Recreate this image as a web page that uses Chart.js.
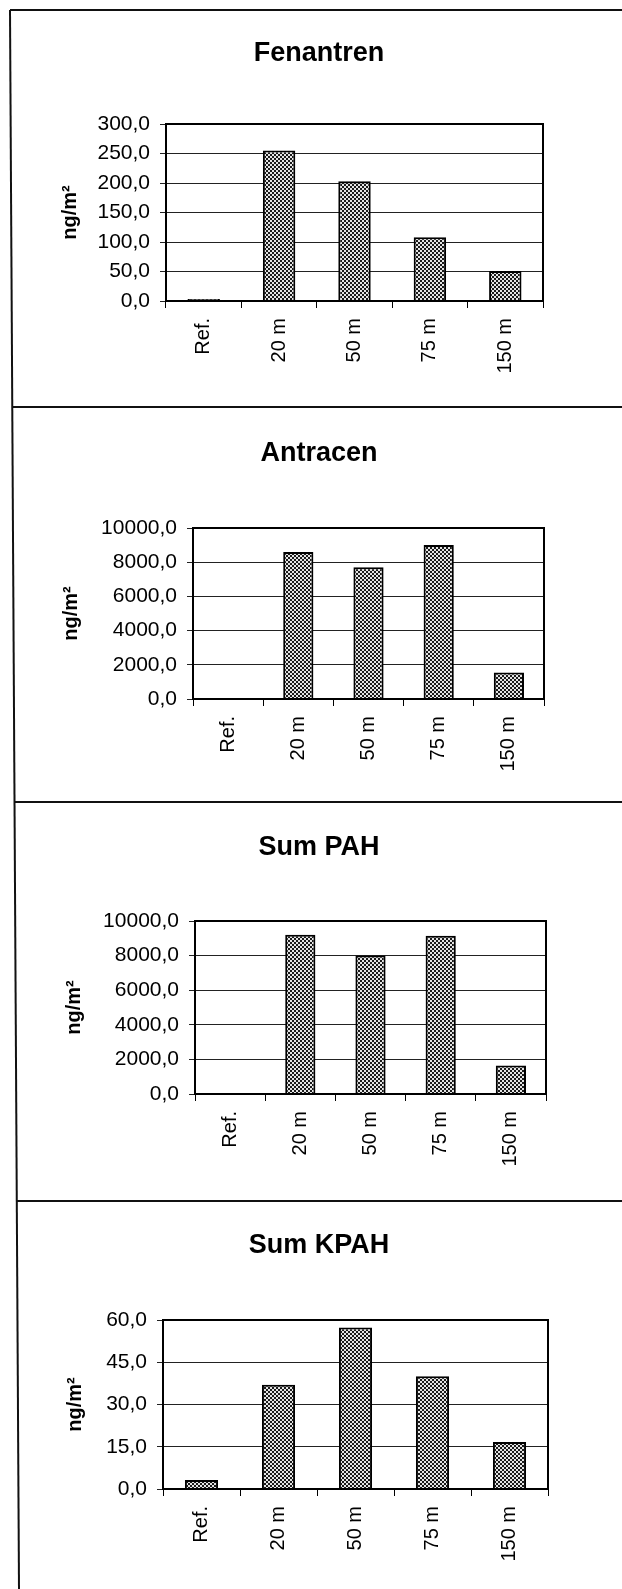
<!DOCTYPE html>
<html>
<head>
<meta charset="utf-8">
<script src="https://cdn.jsdelivr.net/npm/chart.js@4.4.0/dist/chart.umd.min.js"></script>
<style>
  body { margin: 0; background: #fff; }
  #page { position: relative; width: 622px; height: 1589px; overflow: hidden; }
  #page svg { position: absolute; left: 0; top: 0; }
  #page canvas { position: absolute; left: 16px; }
</style>
</head>
<body>
<div id="page">
  <svg width="622" height="1589">
    <g stroke="#111" stroke-width="2">
      <line x1="10" y1="10" x2="622" y2="10"/>
      <line x1="10" y1="10" x2="19" y2="1589"/>
      <line x1="12" y1="407" x2="622" y2="407"/>
      <line x1="14" y1="802" x2="622" y2="802"/>
      <line x1="17" y1="1201" x2="622" y2="1201"/>
    </g>
  </svg>
  <canvas id="myChart1" width="606" height="395" style="top:12px"></canvas>
  <canvas id="myChart2" width="606" height="393" style="top:409px"></canvas>
  <canvas id="myChart3" width="606" height="397" style="top:804px"></canvas>
  <canvas id="myChart4" width="606" height="386" style="top:1203px"></canvas>
</div>
<script>
var categories = ["Ref.", "20 m", "50 m", "75 m", "150 m"];

var fenantren = [3.5, 255, 203, 108, 51];
var antracen = [0, 8600, 7700, 9000, 1550];
var sumPAH = [30, 9200, 8000, 9150, 1650];
var sumKPAH = [3.2, 37, 57.3, 40, 16.7];

var fenantrenTicks = [0, 50, 100, 150, 200, 250, 300];
var antracenTicks = [0, 2000, 4000, 6000, 8000, 10000];
var sumPAHTicks = [0, 2000, 4000, 6000, 8000, 10000];
var sumKPAHTicks = [0, 15, 30, 45, 60];

Chart.defaults.font.family = "'Liberation Sans', Arial, sans-serif";
Chart.defaults.color = "#000";

// black frame round the plot area
var plotFrame = {
    id: "plotFrame",
    afterDatasetsDraw: function (chart) {
        var a = chart.chartArea;
        var ctx = chart.ctx;
        ctx.save();
        ctx.strokeStyle = "#000";
        ctx.lineWidth = 2;
        ctx.strokeRect(a.left, a.top, a.right - a.left, a.bottom - a.top);
        ctx.restore();
    }
};

function dotPattern(canvasId) {
    var tile = document.createElement("canvas");
    tile.width = 4;
    tile.height = 4;
    var t = tile.getContext("2d");
    t.fillStyle = "#e4e4e4";
    t.fillRect(0, 0, 4, 4);
    t.fillStyle = "#1a1a1a";
    t.fillRect(0, 0, 2, 2);
    t.fillRect(2, 2, 2, 2);
    return document.getElementById(canvasId).getContext("2d").createPattern(tile, "repeat");
}

function display_chart(canvasId, title, values, ticks, box) {
    new Chart(canvasId, {
        type: "bar",
        data: {
            labels: categories,
            datasets: [{
                data: values,
                backgroundColor: dotPattern(canvasId),
                borderColor: "#000",
                borderWidth: 2,
                barPercentage: 0.43,
                categoryPercentage: 1
            }]
        },
        options: {
            responsive: false,
            animation: false,
            devicePixelRatio: 1,
            plugins: {
                legend: { display: false },
                tooltip: { enabled: false },
                title: {
                    display: true,
                    text: title,
                    color: "#000",
                    font: { size: 27, weight: "bold" },
                    padding: { top: box.titleTop, bottom: box.titleBottom }
                }
            },
            scales: {
                x: {
                    offset: true,
                    grid: { offset: true, drawOnChartArea: false, tickLength: 7, color: "#000", lineWidth: 1 },
                    border: { color: "#000", width: 2 },
                    ticks: { minRotation: 90, maxRotation: 90, padding: 10, font: { size: 20 } },
                    afterFit: function (s) { s.height = box.xHeight; }
                },
                y: {
                    min: ticks[0],
                    max: ticks[ticks.length - 1],
                    afterBuildTicks: function (s) {
                        s.ticks = ticks.map(function (v) { return { value: v }; });
                    },
                    grid: { color: "#222", lineWidth: 1, tickLength: 6 },
                    border: { color: "#000", width: 2 },
                    ticks: {
                        padding: 10,
                        font: { size: 21 },
                        callback: function (v) { return v.toFixed(1).replace(".", ","); }
                    },
                    title: {
                        display: true,
                        text: "ng/m²",
                        font: { size: 20, weight: "bold" },
                        padding: { top: box.yTitle, bottom: 0 }
                    },
                    afterFit: function (s) { s.width = box.yWidth; }
                },
                // empty axis that only keeps space on the right of the plot
                yRight: {
                    position: "right",
                    grid: { display: false },
                    border: { display: false },
                    ticks: { display: false },
                    afterFit: function (s) { s.width = box.right; }
                }
            }
        },
        plugins: [plotFrame]
    });
}

display_chart("myChart1", "Fenantren", fenantren, fenantrenTicks,
    { right: 79, titleTop: 25, titleBottom: 54.6, xHeight: 106, yWidth: 150, yTitle: 42 });
display_chart("myChart2", "Antracen", antracen, antracenTicks,
    { right: 78, titleTop: 28, titleBottom: 58.6, xHeight: 103, yWidth: 177, yTitle: 43 });
display_chart("myChart3", "Sum PAH", sumPAH, sumPAHTicks,
    { right: 76, titleTop: 27, titleBottom: 57.6, xHeight: 107, yWidth: 179, yTitle: 46 });
display_chart("myChart4", "Sum KPAH", sumKPAH, sumKPAHTicks,
    { right: 74, titleTop: 26, titleBottom: 58.6, xHeight: 100, yWidth: 147, yTitle: 47 });
</script>
</body>
</html>
